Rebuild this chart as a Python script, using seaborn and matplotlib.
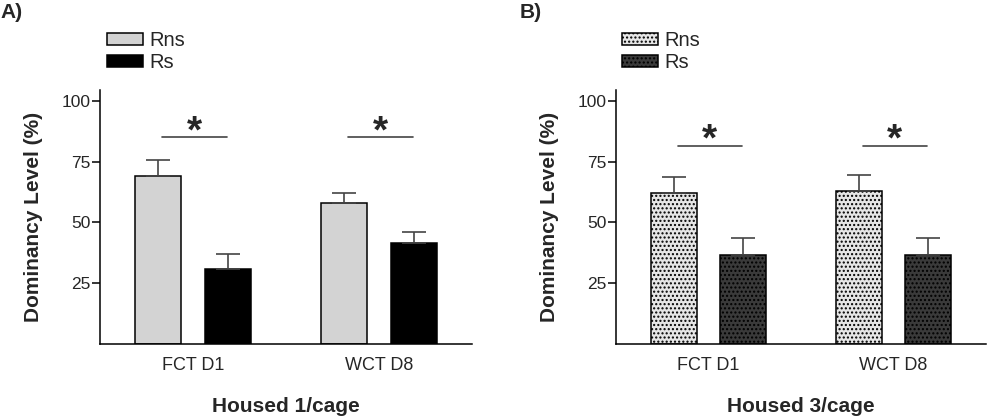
import pandas as pd
import matplotlib.pyplot as plt
import seaborn as sns
from matplotlib.patches import Patch

groups = ["FCT D1", "WCT D8"]
conditions = ["Rns", "Rs"]

# housed 1/cage
h1_rns = [69.0, 57.9]
h1_rns_sem = [6.6, 4.1]
h1_rs = [30.7, 41.7]
h1_rs_sem = [6.3, 4.3]
h1_sig = [85.0, 85.0]

# housed 3/cage
h3_rns = [62.0, 63.0]
h3_rns_sem = [6.8, 6.5]
h3_rs = [36.5, 36.6]
h3_rs_sem = [7.0, 7.0]
h3_sig = [81.6, 81.6]

yticks = [25, 50, 75, 100]

sns.set_style("ticks")
plt.rcParams['font.family'] = ['Liberation Sans', 'DejaVu Sans']
plt.rcParams['hatch.linewidth'] = 1.0


def DomBars(ax, rns, rns_sem, rs, rs_sem, sig, cols, hatch, xlab):
    df = pd.DataFrame({"Test": groups * 2,
                       "Group": [conditions[0]] * 2 + [conditions[1]] * 2,
                       "Level": rns + rs})
    sns.barplot(data=df, x="Test", y="Level", hue="Group", palette=cols,
                width=0.75, gap=0.33, errorbar=None, edgecolor="black",
                linewidth=1.1, saturation=1, legend=False, ax=ax)
    for bars, sem in zip(ax.containers, [rns_sem, rs_sem]):
        for bar, e in zip(bars, sem):
            if hatch:
                bar.set_hatch(hatch)
            x = bar.get_x() + bar.get_width() / 2
            ax.errorbar(x, bar.get_height(), yerr=[[0], [e]], color="#444444",
                        capsize=8.5, elinewidth=1.2, capthick=1.2, zorder=1)
    for i, y in enumerate(sig):
        b0 = ax.containers[0][i]
        b1 = ax.containers[1][i]
        x0 = b0.get_x() + b0.get_width() / 2 + 0.02
        x1 = b1.get_x() + b1.get_width() / 2 - 0.005
        ax.plot([x0, x1], [y, y], color="#444444", lw=1.2)
        ax.text((x0 + x1) / 2, y + 2, "*", ha="center", va="center",
                fontsize=28, fontweight="bold")
    ax.set_xlim(-0.5, 1.5)
    ax.set_ylim(0, 104.5)
    ax.set_yticks(yticks)
    ax.set_yticklabels([str(t) for t in yticks], fontsize=12.5)
    ax.tick_params(axis="y", length=6, width=1.1, pad=1, color="black")
    ax.tick_params(axis="x", length=0, pad=9, labelsize=13)
    ax.set_xlabel(xlab, fontsize=15, fontweight="bold", labelpad=17)
    ax.set_ylabel("Dominancy Level (%)", fontsize=15, fontweight="bold", labelpad=13)
    for s in ["left", "bottom"]:
        ax.spines[s].set_linewidth(1.1)
        ax.spines[s].set_color("black")
    sns.despine(ax=ax)


fig = plt.figure(figsize=(9.88, 4.18), dpi=100)
axA = fig.add_axes([100 / 988, 74 / 418, 372 / 988, 254 / 418])
axB = fig.add_axes([616 / 988, 74 / 418, 370 / 988, 254 / 418])

colsA = ["#d3d3d3", "#000000"]
colsB = ["#e6e6e6", "#3a3a3a"]

DomBars(axA, h1_rns, h1_rns_sem, h1_rs, h1_rs_sem, h1_sig, colsA, None, "Housed 1/cage")
DomBars(axB, h3_rns, h3_rns_sem, h3_rs, h3_rs_sem, h3_sig, colsB, "....", "Housed 3/cage")

for cols, hatch, lx in [(colsA, None, 107), (colsB, "....", 622)]:
    handles = [Patch(facecolor=c, edgecolor="black", linewidth=1.1, hatch=hatch, label=l)
               for c, l in zip(cols, conditions)]
    fig.legend(handles=handles, loc="upper left", bbox_to_anchor=(lx / 988, 1 - 31 / 418),
               frameon=False, fontsize=14.5, handlelength=1.8, handleheight=0.6,
               handletextpad=0.3, labelspacing=0.15, borderpad=0, borderaxespad=0)

fig.text(0 / 988, 1 - 3 / 418, "A)", fontsize=15, fontweight="bold", ha="left", va="top")
fig.text(520 / 988, 1 - 3 / 418, "B)", fontsize=15, fontweight="bold", ha="left", va="top")

plt.savefig("out.png", dpi=100)
